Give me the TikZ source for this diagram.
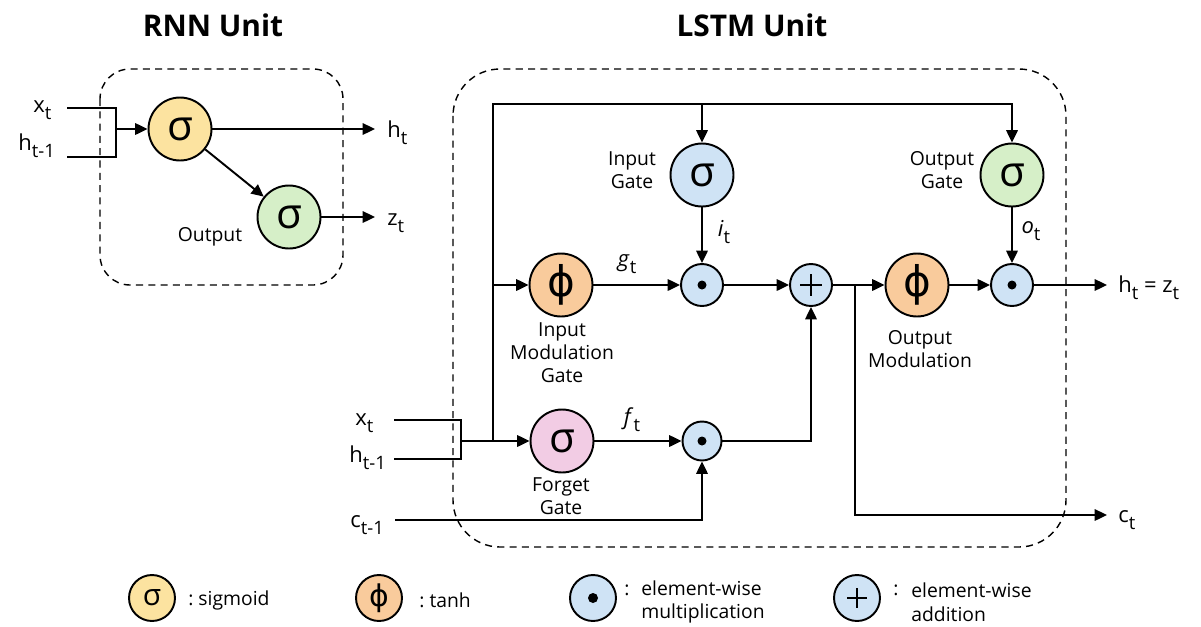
\documentclass[tikz,border=0pt]{standalone}
\usepackage{fontspec}
\setmainfont{Open Sans}
\newfontfamily\symf{DejaVu Sans}
\usetikzlibrary{arrows.meta}
\definecolor{cy}{HTML}{FCE3A0}
\definecolor{cg}{HTML}{D6EFC8}
\definecolor{cb}{HTML}{CFE3F5}
\definecolor{co}{HTML}{F9CB9C}
\definecolor{cp}{HTML}{F2CCE4}
\newcommand{\sbt}[1]{\raisebox{-0.6ex}{\fontsize{10.5}{10.5}\selectfont #1}}
\begin{document}
\begin{tikzpicture}[x=0.02cm,y=-0.02cm,
  wire/.style={line width=1.1pt},
  arr/.style={wire,-{Triangle[length=7pt,width=6.5pt]}},
  gate/.style={circle,draw,line width=1.1pt,minimum size=1.26cm,inner sep=0pt,font=\fontsize{24}{24}\selectfont},
  opn/.style={circle,draw,line width=1.1pt,fill=cb,minimum size=0.84cm,inner sep=0pt},
  leg/.style={circle,draw,line width=1.1pt,minimum size=0.92cm,inner sep=0pt,font=\fontsize{17}{17}\selectfont},
  lab/.style={font=\fontsize{12.5}{14}\selectfont,inner sep=0pt},
  glab/.style={font=\fontsize{11}{13}\selectfont,align=center,inner sep=0pt},
  ltext/.style={font=\fontsize{11}{13.5}\selectfont,align=left,inner sep=0pt,anchor=west},
  title/.style={font=\fontsize{17}{20}\selectfont\bfseries,inner sep=0pt},
  unitbox/.style={draw,dash pattern=on 4pt off 3pt,line width=0.8pt}]
\useasboundingbox (0,0) rectangle (1201,626);
\fill[white] (0,0) rectangle (1201,626);

% titles
\node[title] (t1) at (213,25) {RNN Unit};
\node[title] (t2) at (752,25) {LSTM Unit};

% ---------------- RNN ----------------
\draw[unitbox,rounded corners=0.6cm] (100,69) rectangle (343,285);
\node[gate,fill=cy] (r1) at (180,129) {σ};
\node[gate,fill=cg] (r2) at (289,217) {σ};
\node[lab,anchor=base west] (rxl) at (33,112) {x\sbt{t}};
\node[lab,anchor=base west] (rhl) at (18,150) {h\sbt{t-1}};
\coordinate (rxa) at (67,108);
\coordinate (rxb) at (116,108);
\coordinate (rha) at (67,157);
\coordinate (rhb) at (116,157);
\coordinate (rj) at (116,129);
\coordinate (rho) at (375,129);
\coordinate (rzo) at (375,217);
\draw[wire] (rxa) -- (rxb) -- (rhb) -- (rha);
\draw[arr] (rj) -- (r1);
\draw[arr] (r1) -- (rho);
\draw[arr] (r1) -- (r2);
\draw[arr] (r2) -- (rzo);
\node[lab,anchor=base west] (rhout) at (387,137) {h\sbt{t}};
\node[lab,anchor=base west] (rzout) at (387,225) {z\sbt{t}};
\node[glab] (rout) at (210,237) {Output};

% ---------------- LSTM ----------------
\draw[unitbox,rounded corners=0.94cm] (453,69) rectangle (1066,547);
\node[gate,fill=cb] (ig) at (702,175) {σ};
\node[gate,fill=cg] (og) at (1012,175) {σ};
\node[gate,fill=co] (mg) at (561,285) {\symf ϕ};
\node[gate,fill=co] (omg) at (917,285) {\symf ϕ};
\node[gate,fill=cp] (fg) at (562,441) {σ};
\node[opn] (m1) at (702,285) {};
\node[opn] (ad) at (811,285) {};
\node[opn] (m2) at (1012,285) {};
\node[opn,minimum size=0.78cm] (m3) at (702,441) {};
\fill (m1.center) circle (0.09cm);
\fill (m2.center) circle (0.09cm);
\fill (m3.center) circle (0.09cm);
\draw[line width=1.1pt] (ad.center) +(-11,0) -- +(11,0);
\draw[line width=1.1pt] (ad.center) +(0,-11) -- +(0,11);

\coordinate (topL) at (493,104);
\coordinate (topI) at (702,104);
\coordinate (topO) at (1012,104);
\coordinate (jm) at (493,285);
\coordinate (jb) at (493,441);
\coordinate (bx1) at (394,420);
\coordinate (bx2) at (461,420);
\coordinate (bh1) at (394,459);
\coordinate (bh2) at (461,459);
\coordinate (bj) at (461,441);
\coordinate (cin) at (395,520);
\coordinate (cc) at (702,520);
\coordinate (m3r) at (811,441);
\coordinate (js) at (855,285);
\coordinate (jsd) at (855,515);
\coordinate (cto) at (1107,515);
\coordinate (hto) at (1107,285);

\draw[wire] (bx1) -- (bx2) -- (bh2) -- (bh1);
\draw[arr] (bj) -- (fg);
\draw[arr] (jb) -- (topL) -- (topO) -- (og);
\draw[arr] (topI) -- (ig);
\draw[arr] (jm) -- (mg);
\draw[arr] (mg) -- (m1);
\draw[arr] (ig) -- (m1);
\draw[arr] (m1) -- (ad);
\draw[arr] (ad) -- (omg);
\draw[arr] (omg) -- (m2);
\draw[arr] (og) -- (m2);
\draw[arr] (m2) -- (hto);
\draw[arr] (js) -- (jsd) -- (cto);
\draw[arr] (fg) -- (m3);
\draw[arr] (m3) -- (m3r) -- (ad);
\draw[arr] (cin) -- (cc) -- (m3);

% labels
\node[lab,anchor=base west] (lx) at (355,425) {x\sbt{t}};
\node[lab,anchor=base west] (lh) at (349,462) {h\sbt{t-1}};
\node[lab,anchor=base west] (lc) at (350,527) {c\sbt{t-1}};
\node[lab,anchor=base west] (lho) at (1118,292) {h\sbt{t} = z\sbt{t}};
\node[lab,anchor=base west] (lco) at (1118,522) {c\sbt{t}};
\node[lab] (lg) at (627,264) {\textit{g}\sbt{t}};
\node[lab] (lf) at (632,420) {\textit{f}\sbt{t}};
\node[lab] (li) at (724,232) {\textit{i}\sbt{t}};
\node[lab] (lo) at (1031,231) {\textit{o}\sbt{t}};
\node[glab] (tig) at (632,170) {Input\\Gate};
\node[glab] (tog) at (942,170) {Output\\Gate};
\node[glab] (tmg) at (562,353) {Input\\Modulation\\Gate};
\node[glab] (tomg) at (920,349) {Output\\Modulation};
\node[glab] (tfg) at (561,496) {Forget\\Gate};

% ---------------- legend ----------------
\node[leg,fill=cy] (ls) at (152,598) {σ};
\node[leg,fill=co] (lp) at (379,598) {\symf ϕ};
\node[leg,fill=cb] (ld) at (593,598) {};
\node[leg,fill=cb] (la) at (857,598) {};
\fill (ld.center) circle (0.1cm);
\draw[line width=1.1pt] (la.center) +(-10,0) -- +(10,0);
\draw[line width=1.1pt] (la.center) +(0,-10) -- +(0,10);
\node[ltext] (lst) at (188,600) {:\ sigmoid};
\node[ltext] (lpt) at (419,600) {:\ tanh};
\node[ltext] (ldc) at (624,590) {:};
\node[ltext] (ldt) at (641,602) {element-wise\\multiplication};
\node[ltext] (lac) at (893,590) {:};
\node[ltext] (lat) at (911,602) {element-wise\\addition};
\end{tikzpicture}
\end{document}
